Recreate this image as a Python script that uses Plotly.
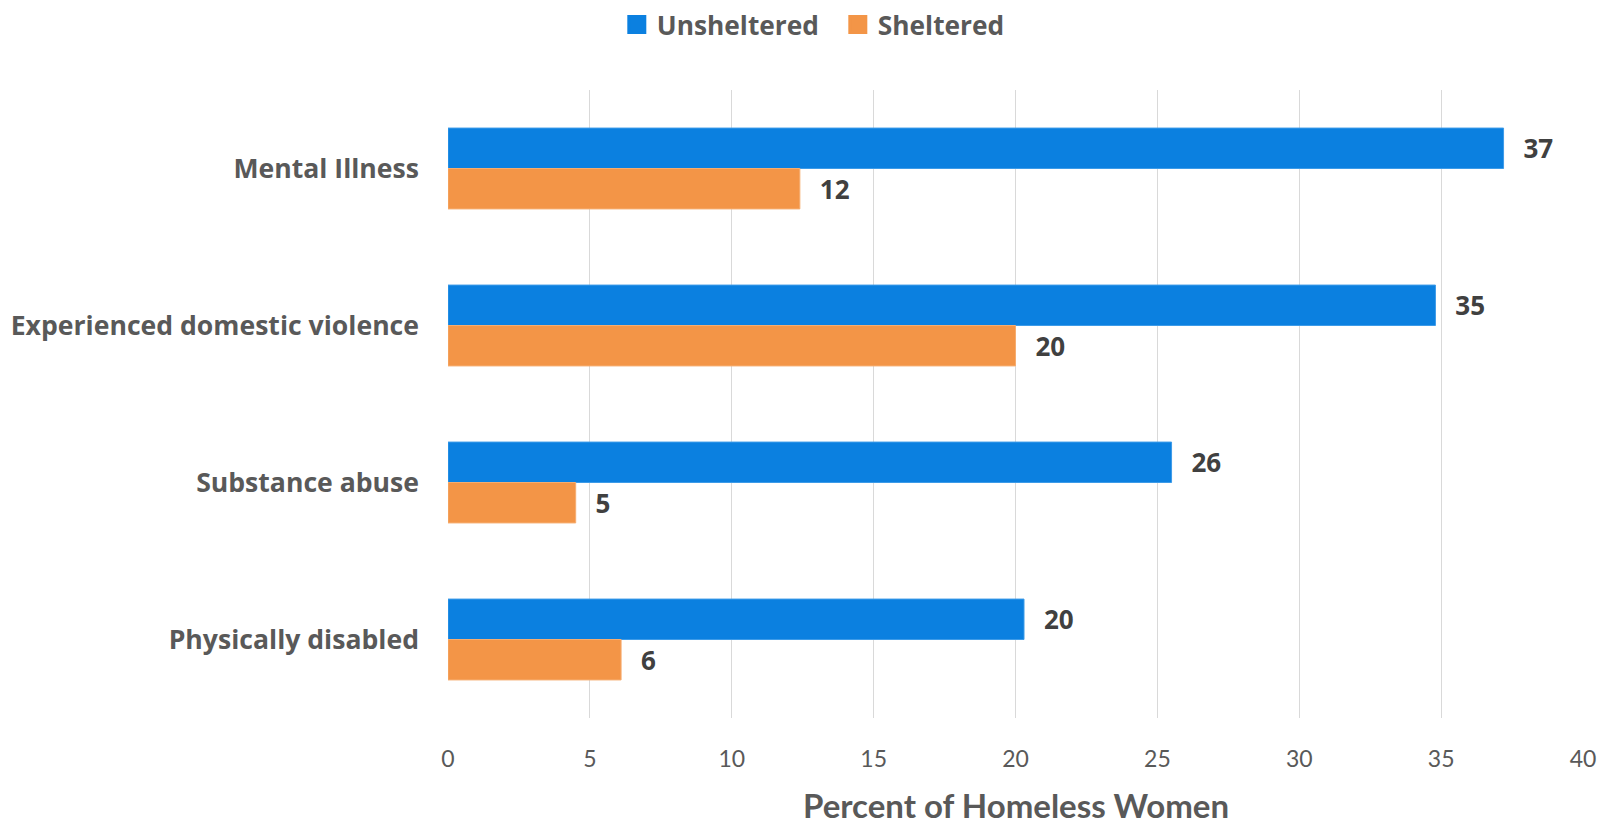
import plotly.graph_objects as go

categories = ["Mental Illness", "Experienced domestic violence", "Substance abuse", "Physically disabled"]
unsheltered = [37.2, 34.8, 25.5, 20.3]
sheltered = [12.4, 20.0, 4.5, 6.1]
x_ticks = [0, 5, 10, 15, 20, 25, 30, 35, 40]
series_names = ["Unsheltered", "Sheltered"]
series_colors = ["#0b80e0", "#f39547"]
edge_colors = ["#3d9be8", "#f6ad70"]
x_title = "Percent of Homeless Women"

fig = go.Figure()
for name, vals, col, edge in zip(series_names, [unsheltered, sheltered], series_colors, edge_colors):
    fig.add_trace(go.Bar(
        y=categories, x=vals, name=name, orientation="h", showlegend=False,
        marker=dict(color=col, line=dict(color=edge, width=1)),
        texttemplate="\u00a0\u00a0<span style='font-size:13px'>\u00a0</span>%{x:.0f}",
        textposition="outside",
        textfont=dict(family="Open Sans", size=26, color="#404040", weight="bold"),
        cliponaxis=False,
    ))
# legend entries with larger square swatches
for name, col in zip(series_names, series_colors):
    fig.add_trace(go.Scatter(
        x=[None], y=[None], mode="markers", name=name,
        marker=dict(symbol="square", size=16, color=col, line=dict(color=col, width=3)),
    ))

fig.update_layout(
    width=1605, height=824,
    margin=dict(l=448, r=22, t=90, b=106, autoexpand=False),
    plot_bgcolor="white", paper_bgcolor="white",
    barmode="group", bargap=0.485, bargroupgap=0,
    showlegend=True,
    legend=dict(orientation="h", xref="container", yref="container",
                x=0.522, xanchor="center", y=1 - 25 / 824, yanchor="middle",
                font=dict(family="Open Sans", size=26.3, color="#595959", weight="bold"),
                itemwidth=30, itemsizing="trace", entrywidth=176, entrywidthmode="pixels",
                traceorder="normal"),
    xaxis=dict(range=[0, 40], tickvals=x_ticks, showgrid=True, gridcolor="#d9d9d9", gridwidth=1,
               zeroline=False, showline=False, ticks="", ticklabelstandoff=25,
               tickfont=dict(family="Lato", size=23, color="#595959")),
    yaxis=dict(autorange="reversed", showgrid=False, showline=False, ticks="", ticklen=0,
               ticklabelstandoff=28,
               tickfont=dict(family="Open Sans", size=26.6, color="#595959", weight="bold")),
    annotations=[dict(text=x_title, xref="paper", x=0.5, xanchor="center",
                      yref="paper", y=-0.138, yanchor="middle", showarrow=False,
                      font=dict(family="Lato", size=33, color="#595959", weight="bold"))],
)
fig.write_html("out.html", config={"displayModeBar": False},
               post_script="document.body.style.margin='0';")
